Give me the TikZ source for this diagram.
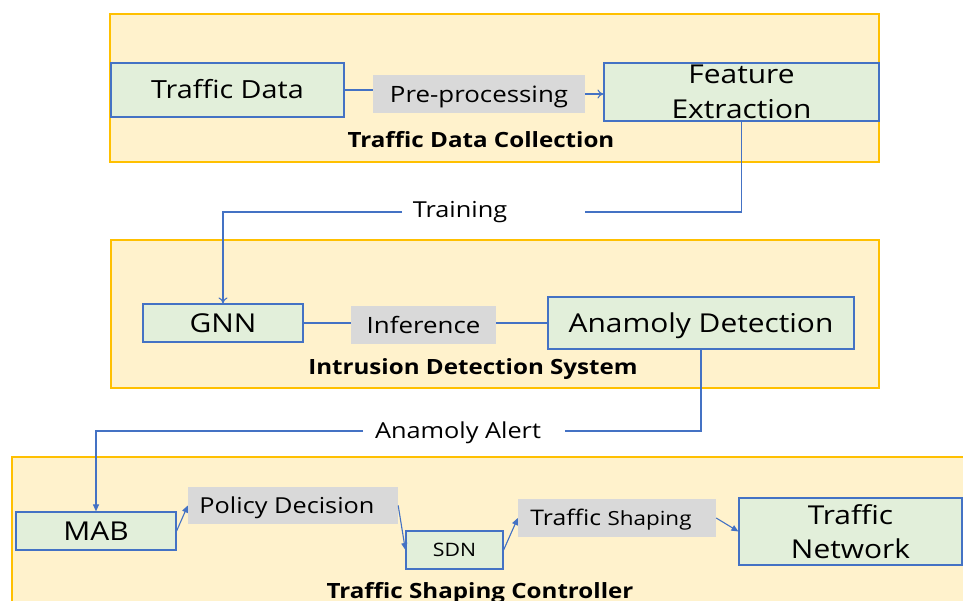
\documentclass[tikz,border=0pt]{standalone}
\usepackage{fontspec}
\setmainfont{Open Sans}[FakeStretch=1.15]
\usetikzlibrary{arrows.meta}
\definecolor{panelfill}{HTML}{FFF2CC}
\definecolor{paneledge}{HTML}{FFC000}
\definecolor{boxfill}{HTML}{E2EFDA}
\definecolor{boxedge}{HTML}{4472C4}
\definecolor{stepfill}{HTML}{D9D9D9}
\newcommand{\fs}[1]{\fontsize{#1}{#1}\selectfont}
\newcommand{\fsl}[2]{\fontsize{#1}{#2}\selectfont}
\tikzset{
  % single-line text of size #1: capital letters sit on the node centre
  sz/.style={font=\fs{#1},
    /utils/exec={\pgfmathsetmacro\txtht{0.9*#1}\pgfmathsetmacro\txtdp{0.186*#1}},
    text height=\txtht pt, text depth=\txtdp pt},
  panel/.style={draw=paneledge, fill=panelfill, line width=1.2pt, inner sep=0pt},
  greenbox/.style={draw=boxedge, fill=boxfill, line width=1.2pt, inner sep=0pt, align=center},
  graybox/.style={fill=stepfill, inner sep=0pt},
  title/.style={sz=21, font=\bfseries\fs{21}, inner sep=0pt},
  flow/.style={draw=boxedge, line width=1.1pt},
  openarrow/.style={flow, -{To[length=6pt,width=9pt]}},
  solidarrow/.style={flow, -{Triangle[length=7pt,width=6pt]}},
  caption/.style={sz=22, inner sep=0pt}
}
\begin{document}
\begin{tikzpicture}[x=1pt, y=-1pt]
\useasboundingbox (0,0) rectangle (963,601);
\clip (0,0) rectangle (963,601);
\fill[white] (0,0) rectangle (963,601);

% Traffic Data Collection
\node[panel, minimum width=769pt, minimum height=148pt] (p1) at (494.5,88) {};
\node[greenbox, sz=25, minimum width=233pt, minimum height=54pt] (td) at (227.5,90) {Traffic Data};
\node[graybox, sz=22.5, minimum width=212pt, minimum height=38pt] (pp) at (479,94) {Pre-processing};
\node[greenbox, minimum width=275pt, minimum height=58pt, font=\fsl{26}{35}] (fe) at (741.5,92) {\rule{0pt}{1.5pt}Feature\\Extraction};
\node[title] (t1) at (481,140.5) {Traffic Data Collection};
\draw[flow] (td.east) -- (td.east -| pp.west);
\draw[openarrow] (pp.east) -- (pp.east -| fe.west);

% Intrusion Detection System
\node[panel, minimum width=768pt, minimum height=148pt] (p2) at (495,314) {};
\node[greenbox, sz=26, minimum width=160pt, minimum height=38pt] (gnn) at (223,323) {GNN};
\node[graybox, sz=22.5, minimum width=145pt, minimum height=38pt] (inf) at (423.5,325) {Inference};
\node[greenbox, sz=26, minimum width=306pt, minimum height=52pt] (ad) at (701,323) {Anamoly Detection};
\node[title] (t2) at (473,367) {Intrusion Detection System};
\draw[flow] (gnn.east) -- (gnn.east -| inf.west);
\draw[flow] (ad.west -| inf.east) -- (ad.west);

% Training link
\coordinate (tr1) at (585,212);
\coordinate (tr2) at (402,212);
\node[caption] (trn) at (460,209.5) {Training};
\draw[flow] (fe.south) |- (tr1);
\draw[openarrow] (tr2) -| (gnn.north);

% Traffic Shaping Controller
\node[panel, minimum width=970pt, minimum height=170pt] (p3) at (497,542) {};
\node[greenbox, sz=26, minimum width=160pt, minimum height=38pt] (mab) at (96,531) {MAB};
\node[graybox, sz=22, minimum width=210pt, minimum height=37pt] (pd) at (293,505.5) {Policy Decision\hspace*{12pt}};
\node[greenbox, sz=18.5, minimum width=97pt, minimum height=38pt] (sdn) at (454.5,550) {SDN};
\node[graybox, sz=21.5, minimum width=198pt, minimum height=38pt] (ts) at (617,518) {Traffic {\fs{19.5}Shaping}\hspace*{12pt}};
\node[greenbox, minimum width=223pt, minimum height=67pt, font=\fsl{26}{34}] (tn) at (850.5,531.5) {\rule{0pt}{1.5pt}Traffic\\Network};
\node[title] (t3) at (480,590.5) {Traffic Shaping Controller};

% Anamoly Alert link
\coordinate (al1) at (565,431);
\coordinate (al2) at (363,431);
\node[caption] (alt) at (458,430.5) {Anamoly Alert};
\draw[flow] (ad.south) |- (al1);
\draw[solidarrow] (al2) -| (mab.north);

% controller chain
\draw[solidarrow] (mab.east) -- (pd.west);
\draw[solidarrow] (pd.east) -- (sdn.west);
\draw[solidarrow] (sdn.east) -- (ts.west);
\draw[solidarrow] (ts.east) -- (tn.west);
\end{tikzpicture}
\end{document}
